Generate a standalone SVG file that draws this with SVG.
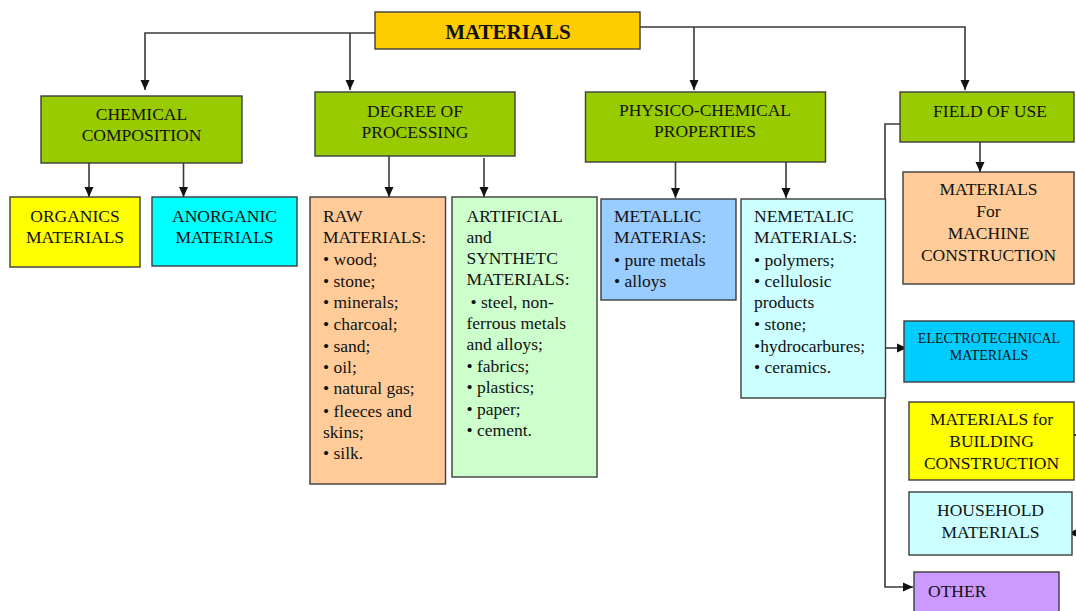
<svg xmlns="http://www.w3.org/2000/svg" width="1076" height="611" viewBox="0 0 1076 611">
<style>
.box{stroke:#3c3c3c;stroke-width:1.4}
.t{font-family:"Liberation Serif","Times New Roman",serif;font-size:17.5px;fill:#111}
.c{text-anchor:middle}
.e{font-size:14px}
.ttl{font-size:21px;font-weight:bold}
.ln{fill:none;stroke:#3a3a3a;stroke-width:1.6}
</style>
<defs>
<marker id="ah" viewBox="0 0 10 10" refX="10" refY="5" markerWidth="10" markerHeight="10" markerUnits="userSpaceOnUse" orient="auto">
<path d="M0,0.5 L10,5 L0,9.5 z" fill="#111"/>
</marker>
</defs>
<rect width="1076" height="611" fill="#fff"/>

<g id="connectors">
<path class="ln" d="M375,33 H145 V90" marker-end="url(#ah)"/>
<path class="ln" d="M350,33 V90" marker-end="url(#ah)"/>
<path class="ln" d="M640,27 H965 V90" marker-end="url(#ah)"/>
<path class="ln" d="M694,27 V90" marker-end="url(#ah)"/>
<path class="ln" d="M89,163 V197" marker-end="url(#ah)"/>
<path class="ln" d="M183.5,163 V197" marker-end="url(#ah)"/>
<path class="ln" d="M389,156 V197" marker-end="url(#ah)"/>
<path class="ln" d="M484,158 V197" marker-end="url(#ah)"/>
<path class="ln" d="M675.5,162 V198" marker-end="url(#ah)"/>
<path class="ln" d="M786,162 V198" marker-end="url(#ah)"/>
<path class="ln" d="M980,138 V172" marker-end="url(#ah)"/>
<path class="ln" d="M900,124 H885 V587 H913" marker-end="url(#ah)"/>
<path class="ln" d="M885,348 H907" marker-end="url(#ah)"/>
<path class="ln" d="M1084,435 H1074" marker-end="url(#ah)"/>
<path class="ln" d="M1084,533 H1068" marker-end="url(#ah)"/>
</g>

<g id="materials">
<rect class="box" x="375" y="12" width="265" height="37" fill="#FFCC00"/>
<text class="t c ttl" x="508" y="39">MATERIALS</text>
</g>

<g id="chemical">
<rect class="box" x="41" y="96" width="201" height="67" fill="#99CC00"/>
<text class="t c" x="141.5" y="120">CHEMICAL</text>
<text class="t c" x="141.5" y="141">COMPOSITION</text>
</g>

<g id="degree">
<rect class="box" x="315" y="92" width="200" height="64" fill="#99CC00"/>
<text class="t c" x="415" y="117">DEGREE OF</text>
<text class="t c" x="415" y="138">PROCESSING</text>
</g>

<g id="physico">
<rect class="box" x="585.5" y="92" width="240" height="70" fill="#99CC00"/>
<text class="t c" x="705" y="116">PHYSICO-CHEMICAL</text>
<text class="t c" x="705" y="137">PROPERTIES</text>
</g>

<g id="field">
<rect class="box" x="900" y="92" width="174" height="50" fill="#99CC00"/>
<text class="t c" x="990" y="117">FIELD OF USE</text>
</g>

<g id="organics">
<rect class="box" x="10" y="197" width="130" height="70" fill="#FFFF00"/>
<text class="t c" x="75" y="222">ORGANICS</text>
<text class="t c" x="75" y="243">MATERIALS</text>
</g>

<g id="anorganic">
<rect class="box" x="152" y="197" width="145" height="69" fill="#00FFFF"/>
<text class="t c" x="224.5" y="222">ANORGANIC</text>
<text class="t c" x="224.5" y="243">MATERIALS</text>
</g>

<g id="raw">
<rect class="box" x="310" y="197" width="135.5" height="287" fill="#FFCC99"/>
<text class="t" x="323" y="222">RAW</text>
<text class="t" x="323" y="243">MATERIALS:</text>
<text class="t" x="323" y="265">• wood;</text>
<text class="t" x="323" y="287">• stone;</text>
<text class="t" x="323" y="308">• minerals;</text>
<text class="t" x="323" y="330">• charcoal;</text>
<text class="t" x="323" y="352">• sand;</text>
<text class="t" x="323" y="373">• oil;</text>
<text class="t" x="323" y="394">• natural gas;</text>
<text class="t" x="323" y="417">• fleeces and</text>
<text class="t" x="323" y="438">skins;</text>
<text class="t" x="323" y="459">• silk.</text>
</g>

<g id="artificial">
<rect class="box" x="452" y="197" width="145" height="280" fill="#CCFFCC"/>
<text class="t" x="466.5" y="222">ARTIFICIAL</text>
<text class="t" x="466.5" y="243">and</text>
<text class="t" x="466.5" y="264">SYNTHETC</text>
<text class="t" x="466.5" y="285">MATERIALS:</text>
<text class="t" x="470.5" y="308">• steel, non-</text>
<text class="t" x="466.5" y="329">ferrous metals</text>
<text class="t" x="466.5" y="350">and alloys;</text>
<text class="t" x="466.5" y="372">• fabrics;</text>
<text class="t" x="466.5" y="393">• plastics;</text>
<text class="t" x="466.5" y="415">• paper;</text>
<text class="t" x="466.5" y="436">• cement.</text>
</g>

<g id="metallic">
<rect class="box" x="601" y="199" width="135" height="101" fill="#99CCFF"/>
<text class="t" x="614" y="222">METALLIC</text>
<text class="t" x="614" y="243">MATERIAS:</text>
<text class="t" x="614" y="266">• pure metals</text>
<text class="t" x="614" y="287">• alloys</text>
</g>

<g id="nemetalic">
<rect class="box" x="741" y="199" width="144.5" height="199" fill="#CCFFFF"/>
<text class="t" x="754" y="222">NEMETALIC</text>
<text class="t" x="754" y="243">MATERIALS:</text>
<text class="t" x="754" y="266">• polymers;</text>
<text class="t" x="754" y="287">• cellulosic</text>
<text class="t" x="754" y="308">products</text>
<text class="t" x="754" y="330">• stone;</text>
<text class="t" x="754" y="352">•hydrocarbures;</text>
<text class="t" x="754" y="373">• ceramics.</text>
</g>

<g id="machine">
<rect class="box" x="903" y="172" width="171" height="112" fill="#FFCC99"/>
<text class="t c" x="988.5" y="195">MATERIALS</text>
<text class="t c" x="988.5" y="217">For</text>
<text class="t c" x="988.5" y="239">MACHINE</text>
<text class="t c" x="988.5" y="261">CONSTRUCTION</text>
</g>

<g id="electro">
<rect class="box" x="904" y="321" width="170" height="61" fill="#00CCFF"/>
<text class="t c e" x="989" y="343">ELECTROTECHNICAL</text>
<text class="t c e" x="989" y="360">MATERIALS</text>
</g>

<g id="building">
<rect class="box" x="909" y="402" width="165" height="78" fill="#FFFF00"/>
<text class="t c" x="991.5" y="425">MATERIALS for</text>
<text class="t c" x="991.5" y="447">BUILDING</text>
<text class="t c" x="991.5" y="469">CONSTRUCTION</text>
</g>

<g id="household">
<rect class="box" x="909" y="492" width="163" height="63" fill="#CCFFFF"/>
<text class="t c" x="990.5" y="516">HOUSEHOLD</text>
<text class="t c" x="990.5" y="538">MATERIALS</text>
</g>

<g id="other">
<rect class="box" x="914" y="572" width="145" height="45" fill="#CC99FF"/>
<text class="t" x="928" y="597">OTHER</text>
</g>
</svg>
